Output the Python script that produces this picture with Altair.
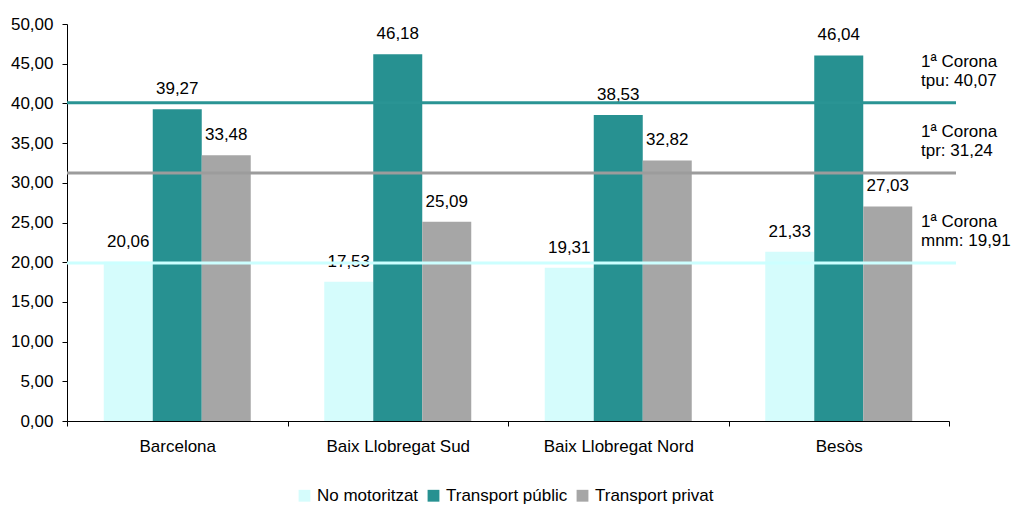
import altair as alt
import pandas as pd

regions = ["Barcelona", "Baix Llobregat Sud", "Baix Llobregat Nord", "Besòs"]
series = ["No motoritzat", "Transport públic", "Transport privat"]
no_motoritzat = [20.06, 17.53, 19.31, 21.33]
transport_public = [39.27, 46.18, 38.53, 46.04]
transport_privat = [33.48, 25.09, 32.82, 27.03]
colors = ["#D5FCFC", "#279191", "#A6A6A6"]

ref_codes = ["tpu", "tpr", "mnm"]
ref_values = [40.07, 31.24, 19.91]
ref_colors = ["#2A9494", "#9C9C9C", "#CCFFFF"]
y_ticks = [0, 5, 10, 15, 20, 25, 30, 35, 40, 45, 50]

def fmt(v):
    return f"{v:.2f}".replace(".", ",")

rows = []
for s, vals in zip(series, [no_motoritzat, transport_public, transport_privat]):
    for r, v in zip(regions, vals):
        rows.append({"region": r, "serie": s, "value": v, "label": fmt(v)})
df = pd.DataFrame(rows)

ref = pd.DataFrame({
    "code": ref_codes,
    "value": ref_values,
    "color": ref_colors,
    "label": [f"1ª Corona\n{c}: {fmt(v)}" for c, v in zip(ref_codes, ref_values)],
})

FONT = "Liberation Sans"
FS = 17

yaxis = alt.Axis(values=y_ticks, grid=False, domainColor="black",
                 tickColor="black", tickSize=5, labelPadding=9,
                 labelOverlap=False,
                 labelFontSize=FS, labelColor="black", labelFont=FONT,
                 labelExpr="replace(format(datum.value, '.2f'), '.', ',')")
yscale = alt.Scale(domain=[0, 50], nice=False)

def Y():
    return alt.Y("value:Q", title=None, scale=yscale, axis=yaxis)

xaxis = alt.Axis(labelAngle=0, tickBand="extent", domainColor="black",
                 tickColor="black", tickSize=5, labelPadding=12,
                 labelFontSize=FS, labelColor="black", labelFont=FONT)
xscale = alt.Scale(paddingInner=0, paddingOuter=0)

def X():
    return alt.X("region:N", sort=regions, title=None, scale=xscale, axis=xaxis)

xoff = alt.XOffset("serie:N", sort=series,
                   scale=alt.Scale(paddingOuter=0.75, paddingInner=0))

bars = alt.Chart(df).mark_bar().encode(
    x=X(), y=Y(), xOffset=xoff,
    color=alt.Color("serie:N", sort=series,
                    scale=alt.Scale(domain=series, range=colors),
                    legend=alt.Legend(title=None, orient="none", direction="horizontal",
                                      legendX=229, legendY=463, symbolType="square",
                                      symbolSize=140, symbolStrokeWidth=0,
                                      labelFontSize=FS, labelFont=FONT, labelColor="black",
                                      labelOffset=4, columnPadding=6, padding=0)),
)

labels = alt.Chart(df).mark_text(fontSize=FS, font=FONT, color="black",
                                 baseline="alphabetic", dy=-15).encode(
    x=X(), xOffset=xoff, y=Y(), text="label:N")

rules = alt.Chart(ref).mark_rule(strokeWidth=3).encode(
    y=Y(), x=alt.value(0), x2=alt.value(889),
    color=alt.Color("color:N", scale=None))

ref_text = alt.Chart(ref).mark_text(fontSize=FS, font=FONT, color="black", align="left",
                                    baseline="alphabetic", lineBreak="\n", dy=-36,
                                    lineHeight=19).encode(
    y=Y(), x=alt.value(854), text="label:N")

chart = alt.layer(bars, labels, rules, ref_text).properties(
    width=882, height=397,
    autosize=alt.AutoSizeParams(type="none"),
    padding={"left": 59, "top": 16, "right": 63, "bottom": 84},
).configure(font=FONT).configure_view(stroke=None)

chart.save("out.html", embed_options={"renderer": "svg", "actions": False})
